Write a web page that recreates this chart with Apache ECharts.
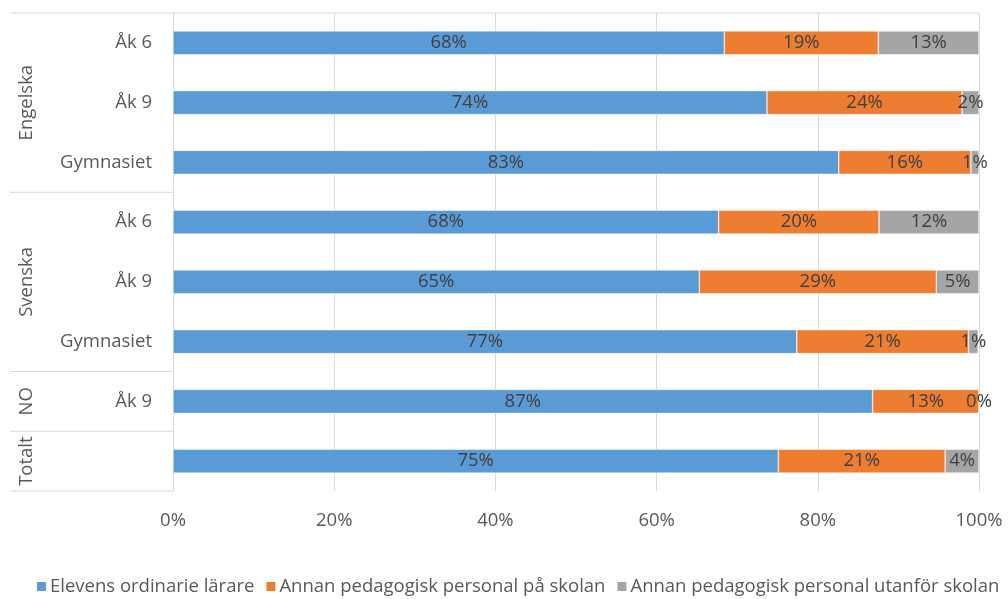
<!DOCTYPE html>
<html><head><meta charset="utf-8">
<script src="https://cdn.jsdelivr.net/npm/echarts@6/dist/echarts.min.js"></script>
<style>html,body{margin:0;padding:0;background:#fff}#c{width:1008px;height:599px}</style>
</head><body><div id="c"></div>
<script>
const categories = ['Åk 6','Åk 9','Gymnasiet','Åk 6','Åk 9','Gymnasiet','Åk 9',''];
const groups = [
  {name:'Engelska', from:0, to:2},
  {name:'Svenska', from:3, to:5},
  {name:'NO', from:6, to:6},
  {name:'Totalt', from:7, to:7}
];
const seriesNames = ['Elevens ordinarie lärare','Annan pedagogisk personal på skolan','Annan pedagogisk personal utanför skolan'];
const ordinarie = [68.4, 73.7, 82.6, 67.7, 65.3, 77.4, 86.8, 75.1];
const paSkolan  = [19.1, 24.2, 16.4, 19.9, 29.4, 21.3, 13.2, 20.7];
const utanfor   = [12.5, 2.1, 1.0, 12.4, 5.3, 1.2, 0.0, 4.2];
const xTicks = [0,20,40,60,80,100];
const colors = ['#5B9BD5','#ED7D31','#A5A5A5'];
const FONT = 'Open Sans';
const FS = 18.5;

const chart = echarts.init(document.getElementById('c'));
const mk = (name, data, color) => ({
  name, type:'bar', stack:'s', data, barWidth:'40%',
  itemStyle:{color, borderColor:'#fff', borderWidth:0.5},
  label:{show:true, position:'inside', color:'#404040', fontSize:FS, fontFamily:FONT,
    formatter:p=>Math.round(p.value)+'%'},
  emphasis:{disabled:true}
});
chart.setOption({
  animation:false,
  textStyle:{fontFamily:FONT},
  grid:{left:173, right:29, top:13, bottom:108},
  xAxis:{type:'value', min:0, max:100, interval:20,
    axisLabel:{formatter:v=>v+'%', color:'#595959', fontSize:FS, fontFamily:FONT, margin:20},
    splitLine:{lineStyle:{color:'#D9D9D9', width:1}},
    axisLine:{show:false}, axisTick:{show:false}},
  yAxis:{type:'category', data:categories, inverse:true,
    axisLabel:{color:'#595959', fontSize:FS, fontFamily:FONT, margin:21},
    axisLine:{show:true, lineStyle:{color:'#D9D9D9'}}, axisTick:{show:false}},
  legend:{top:572, left:30, itemWidth:11, itemHeight:11, itemGap:10, icon:'rect',
    textStyle:{color:'#595959', fontSize:FS, fontFamily:FONT, padding:[0,0,0,-2]}, selectedMode:false},
  series:[mk(seriesNames[0],ordinarie,colors[0]), mk(seriesNames[1],paSkolan,colors[1]), mk(seriesNames[2],utanfor,colors[2])]
});

// group separators and labels, positioned from the category axis
const yOf = i => chart.convertToPixel({yAxisIndex:0}, i);
const step = yOf(1) - yOf(0);
const x0 = chart.convertToPixel({xAxisIndex:0}, 0);
const x100 = chart.convertToPixel({xAxisIndex:0}, 100);
const els = [];
const yTop = yOf(0) - step/2;
els.push({type:'line', shape:{x1:10, y1:yTop, x2:x100, y2:yTop}, style:{stroke:'#D9D9D9', lineWidth:1}, silent:true});
groups.forEach(g => {
  const yb = yOf(g.to) + step/2;
  const yc = (yOf(g.from) + yOf(g.to))/2;
  els.push({type:'line', shape:{x1:10, y1:yb, x2:x0, y2:yb}, style:{stroke:'#D9D9D9', lineWidth:1}, silent:true});
  els.push({type:'text', x:27, y:yc, rotation:Math.PI/2,
    style:{text:g.name, fill:'#595959', fontSize:FS, fontFamily:FONT, align:'center', verticalAlign:'middle'}, silent:true});
});
chart.setOption({graphic:els});
</script></body></html>
